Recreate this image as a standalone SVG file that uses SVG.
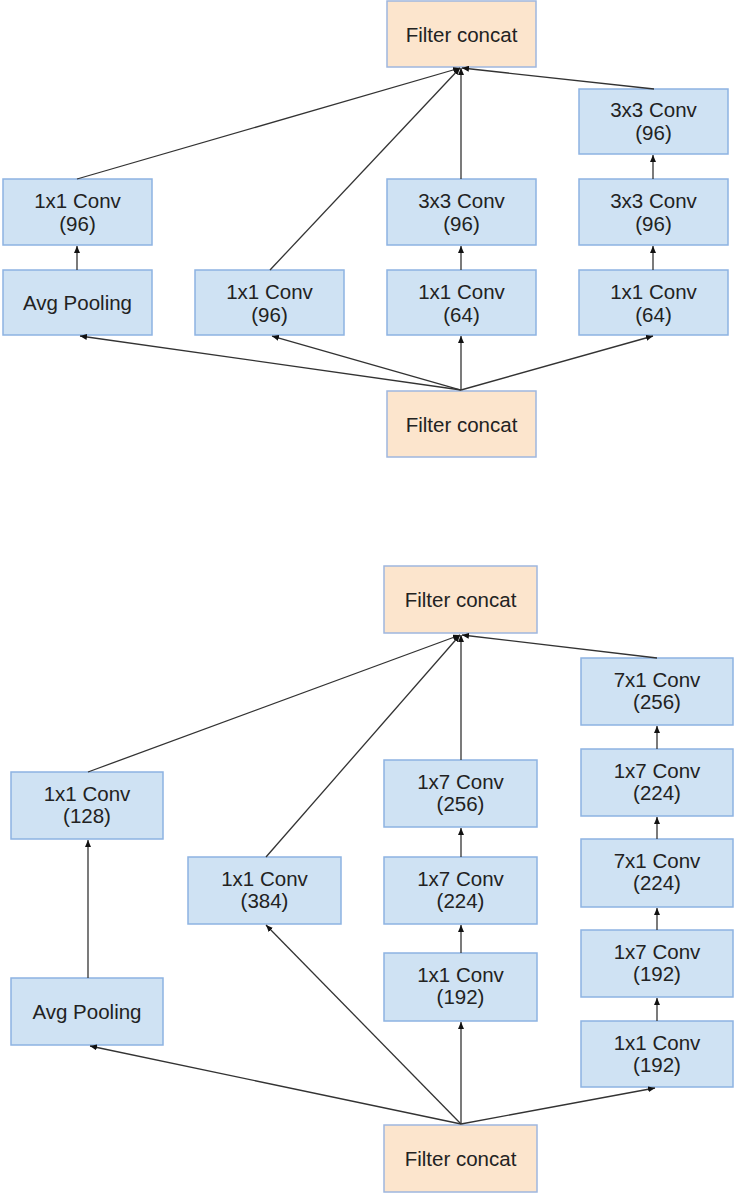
<svg xmlns="http://www.w3.org/2000/svg" width="734" height="1195" viewBox="0 0 734 1195">
<style>
.b{fill:#cfe2f3;stroke:#8db3e2;stroke-width:1.5}
.o{fill:#fce5cd;stroke:#9fb6de;stroke-width:1.5}
text{font-family:"Liberation Sans",Arial,sans-serif;font-size:20.5px;fill:#222;text-anchor:middle}
.c line{stroke:#333;stroke-width:1.3;marker-end:url(#ah)}
</style>
<defs>
<marker id="ah" markerUnits="userSpaceOnUse" markerWidth="8" markerHeight="6" refX="7" refY="3" orient="auto">
<path d="M0,0 L7,3 L0,6 z" fill="#111"/>
</marker>
</defs>
<rect width="734" height="1195" fill="#fff"/>

<!-- Top diagram -->
<g id="t_concat_top"><rect class="o" x="387" y="1" width="149" height="66"/><text x="461.5" y="42">Filter concat</text></g>
<g id="t_conv1x1_96a"><rect class="b" x="3" y="179" width="149" height="66"/><text x="77.5" y="208">1x1 Conv</text><text x="77.5" y="231">(96)</text></g>
<g id="t_avgpool"><rect class="b" x="3" y="270" width="149" height="65"/><text x="77.5" y="310">Avg Pooling</text></g>
<g id="t_conv1x1_96b"><rect class="b" x="195" y="270" width="149" height="65"/><text x="269.5" y="299">1x1 Conv</text><text x="269.5" y="322">(96)</text></g>
<g id="t_mid_3x3"><rect class="b" x="387" y="179" width="149" height="66"/><text x="461.5" y="208">3x3 Conv</text><text x="461.5" y="231">(96)</text></g>
<g id="t_mid_1x1"><rect class="b" x="387" y="270" width="149" height="65"/><text x="461.5" y="299">1x1 Conv</text><text x="461.5" y="322">(64)</text></g>
<g id="t_r_3x3_top"><rect class="b" x="579" y="89" width="149" height="65"/><text x="653.5" y="117">3x3 Conv</text><text x="653.5" y="140">(96)</text></g>
<g id="t_r_3x3_mid"><rect class="b" x="579" y="179" width="149" height="66"/><text x="653.5" y="208">3x3 Conv</text><text x="653.5" y="231">(96)</text></g>
<g id="t_r_1x1"><rect class="b" x="579" y="270" width="149" height="65"/><text x="653.5" y="299">1x1 Conv</text><text x="653.5" y="322">(64)</text></g>
<g id="t_concat_bottom"><rect class="o" x="387" y="391" width="149" height="66"/><text x="461.5" y="432">Filter concat</text></g>

<!-- Bottom diagram -->
<g id="b_concat_top"><rect class="o" x="384" y="566" width="153" height="67"/><text x="460.5" y="607">Filter concat</text></g>
<g id="b_conv1x1_128"><rect class="b" x="11" y="772" width="152" height="67"/><text x="87" y="801">1x1 Conv</text><text x="87" y="823">(128)</text></g>
<g id="b_avgpool"><rect class="b" x="11" y="978" width="152" height="67"/><text x="87" y="1019">Avg Pooling</text></g>
<g id="b_conv1x1_384"><rect class="b" x="188" y="857" width="153" height="67"/><text x="264.5" y="886">1x1 Conv</text><text x="264.5" y="908">(384)</text></g>
<g id="b_mid_1x7_256"><rect class="b" x="384" y="760" width="153" height="67"/><text x="460.5" y="789">1x7 Conv</text><text x="460.5" y="811">(256)</text></g>
<g id="b_mid_1x7_224"><rect class="b" x="384" y="857" width="153" height="67"/><text x="460.5" y="886">1x7 Conv</text><text x="460.5" y="908">(224)</text></g>
<g id="b_mid_1x1_192"><rect class="b" x="384" y="953" width="153" height="68"/><text x="460.5" y="982">1x1 Conv</text><text x="460.5" y="1004">(192)</text></g>
<g id="b_r_7x1_256"><rect class="b" x="581" y="658" width="152" height="67"/><text x="657" y="687">7x1 Conv</text><text x="657" y="709">(256)</text></g>
<g id="b_r_1x7_224"><rect class="b" x="581" y="749" width="152" height="67"/><text x="657" y="778">1x7 Conv</text><text x="657" y="800">(224)</text></g>
<g id="b_r_7x1_224"><rect class="b" x="581" y="839" width="152" height="68"/><text x="657" y="868">7x1 Conv</text><text x="657" y="890">(224)</text></g>
<g id="b_r_1x7_192"><rect class="b" x="581" y="930" width="152" height="67"/><text x="657" y="959">1x7 Conv</text><text x="657" y="981">(192)</text></g>
<g id="b_r_1x1_192"><rect class="b" x="581" y="1021" width="152" height="66"/><text x="657" y="1050">1x1 Conv</text><text x="657" y="1072">(192)</text></g>
<g id="b_concat_bottom"><rect class="o" x="384" y="1125" width="153" height="67"/><text x="460.5" y="1166">Filter concat</text></g>

<g id="connectors" class="c">
<!-- top diagram -->
<line x1="77" y1="179" x2="460" y2="68"/>
<line x1="270" y1="270" x2="460" y2="68"/>
<line x1="461" y1="179" x2="461" y2="68"/>
<line x1="654" y1="89" x2="462" y2="68"/>
<line x1="77" y1="270" x2="77" y2="246"/>
<line x1="461" y1="270" x2="461" y2="246"/>
<line x1="653" y1="270" x2="653" y2="246"/>
<line x1="653" y1="179" x2="653" y2="155"/>
<line x1="461" y1="390" x2="80" y2="336"/>
<line x1="461" y1="390" x2="272" y2="336"/>
<line x1="461" y1="390" x2="461" y2="336"/>
<line x1="461" y1="390" x2="653" y2="336"/>
<!-- bottom diagram -->
<line x1="88" y1="772" x2="460" y2="635"/>
<line x1="266" y1="857" x2="460" y2="635"/>
<line x1="461" y1="760" x2="461" y2="635"/>
<line x1="657" y1="658" x2="462" y2="635"/>
<line x1="88" y1="978" x2="88" y2="840"/>
<line x1="461" y1="857" x2="461" y2="828"/>
<line x1="461" y1="953" x2="461" y2="925"/>
<line x1="657" y1="749" x2="657" y2="726"/>
<line x1="657" y1="839" x2="657" y2="817"/>
<line x1="657" y1="930" x2="657" y2="908"/>
<line x1="657" y1="1021" x2="657" y2="998"/>
<line x1="461" y1="1124" x2="90" y2="1046"/>
<line x1="461" y1="1124" x2="266" y2="925"/>
<line x1="461" y1="1124" x2="461" y2="1022"/>
<line x1="461" y1="1124" x2="655" y2="1088"/>
</g>
</svg>
